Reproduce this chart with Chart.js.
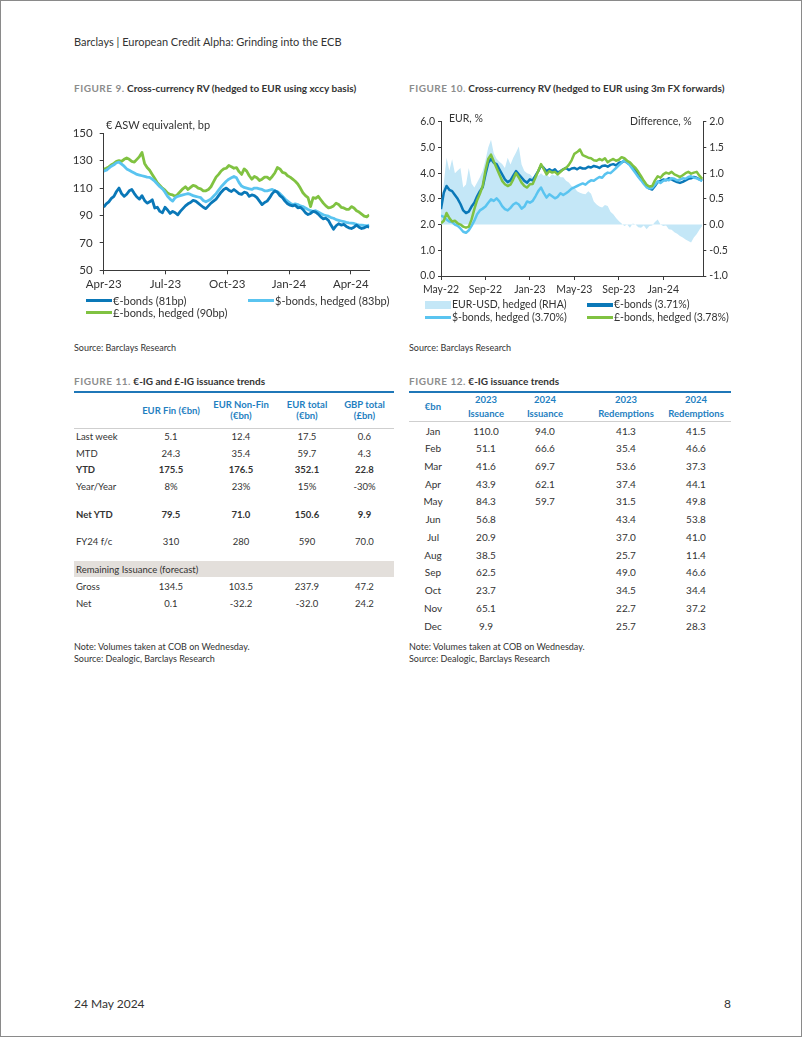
<!DOCTYPE html>
<html>
<head>
<meta charset="utf-8">
<script src="https://cdn.jsdelivr.net/npm/chart.js@4.4.1/dist/chart.umd.min.js"></script>
<style>
  body { margin: 0; background: #fff; font-family: Lato, sans-serif; color: #333; }
  #page { position: relative; width: 802px; height: 1037px; box-sizing: border-box; border: 1px solid #8a8a8a; overflow: hidden; }
  .abs { position: absolute; white-space: nowrap; }
  .hdr { font-size: 11px; line-height: 14px; color: #333; }
  .ftitle { font-size: 10px; line-height: 12px; font-weight: bold; color: #333; }
  .ftitle .fig { color: #8c8c8c; letter-spacing: 0.5px; }
  .src { font-size: 9px; line-height: 11.5px; color: #333; }
  .axlab { font-size: 11px; line-height: 13px; color: #333; }
  .leg { font-size: 11px; line-height: 13px; color: #333; }
  .sw { position: absolute; }
  canvas { position: absolute; }
  table { position: absolute; border-collapse: collapse; table-layout: fixed; font-size: 9.5px; color: #333; }
  td, th { padding: 0; white-space: nowrap; text-align: center; vertical-align: middle; }
  th { color: #1f7fc1; font-weight: bold; line-height: 11.5px; }
  tr.head { border-top: 2px solid #1f77b8; border-bottom: 1px solid #cfcfcf; }
  td.lab { text-align: left; padding-left: 2px; }
  tr.bold td { font-weight: bold; }
  tr.band td { background: #e3dfdb; }
</style>
</head>
<body>
<div id="page">
  <div class="abs hdr" style="left:73px;top:34px">Barclays | European Credit Alpha: Grinding into the ECB</div>

  <div class="abs ftitle" style="left:73px;top:81px"><span class="fig">FIGURE 9.</span> Cross-currency RV (hedged to EUR using xccy basis)</div>
  <div class="abs ftitle" style="left:408px;top:81px"><span class="fig">FIGURE 10.</span> Cross-currency RV (hedged to EUR using 3m FX forwards)</div>

  <canvas id="c9" width="320" height="182" style="left:60px;top:110px"></canvas>
  <div class="abs axlab" style="left:105px;top:117px">€ ASW equivalent, bp</div>

  <canvas id="c10" width="340" height="195" style="left:400px;top:100px"></canvas>
  <div class="abs axlab" style="left:448px;top:111px;font-size:10.5px">EUR, %</div>
  <div class="abs axlab" style="left:629px;top:114px;font-size:10.5px">Difference, %</div>

  <div class="abs src" style="left:73px;top:341px">Source: Barclays Research</div>
  <div class="abs src" style="left:408px;top:341px">Source: Barclays Research</div>

  <div class="abs ftitle" style="left:73px;top:374px"><span class="fig">FIGURE 11.</span> €-IG and £-IG issuance trends</div>
  <div class="abs ftitle" style="left:408px;top:374px"><span class="fig">FIGURE 12.</span> €-IG issuance trends</div>

  <table id="t11" style="left:73px;top:390px;width:320px"></table>
  <table id="t12" style="left:408px;top:390px;width:322px"></table>

  <div class="abs src" style="left:73px;top:640px">Note: Volumes taken at COB on Wednesday.<br>Source: Dealogic, Barclays Research</div>
  <div class="abs src" style="left:408px;top:640px">Note: Volumes taken at COB on Wednesday.<br>Source: Dealogic, Barclays Research</div>

  <div class="abs hdr" style="left:73px;top:996px;font-size:12px">24 May 2024</div>
  <div class="abs hdr" style="left:723px;top:996px;font-size:12px">8</div>
</div>

<script>
// Figure 9: € ASW equivalent (bp), about twice a week from Apr-23
const fig9TickMonths = [0, 3, 6, 9, 12];
const fig9TickLabels = ["Apr-23", "Jul-23", "Oct-23", "Jan-24", "Apr-24"];
const fig9SpanMonths = 12.9;
const fig9Names = ["€-bonds (81bp)", "$-bonds, hedged (83bp)", "£-bonds, hedged (90bp)"];
const fig9Eur = [96, 98.5, 100, 102.5, 104, 107.5, 110, 106, 104, 105.5, 108, 109, 106, 103.5, 102, 104.5, 101, 99, 100, 101.5,
  95.5, 96, 93, 92, 96, 94, 91.5, 93, 92, 90.5, 93, 95, 97, 98.5, 99.5, 101, 100.5, 99, 97.5, 96,
  95, 97, 99, 100.5, 102, 104.5, 107, 109, 110, 108.5, 107.5, 109, 107.5, 106, 105.4, 107, 106.6, 104, 105, 104.5,
  103, 100.5, 98, 99.5, 100.5, 103, 106, 108, 107, 104.5, 103, 100.5, 98.5, 97.5, 97, 97.5, 95.6, 96, 94.4, 92,
  90.7, 91.5, 93, 92.5, 91, 89, 87.6, 88, 86.5, 83, 80, 82.5, 84, 83, 83.5, 82, 81, 80.5, 81.5, 83,
  81.5, 80.5, 81, 82, 81.5];
const fig9Usd = [122.4, 123, 124.5, 126, 127, 128.5, 129, 127.5, 126, 124, 123, 122, 121, 120, 119.5, 119, 118.5, 118, 117.8, 116.5,
  115, 113, 111, 109.5, 107, 104, 102, 100.5, 103, 104, 104.5, 105, 105.5, 106, 105.4, 104.5, 104, 103.5, 103, 101,
  100, 101, 102, 104, 106, 108.5, 111, 113, 115, 116.5, 117.5, 118.5, 117.5, 114, 111.5, 110.5, 110, 109.5, 109, 110,
  110, 109.5, 109, 108, 108, 108.5, 109, 108, 107.5, 106, 104, 102, 100.5, 99, 98, 98.5, 98, 97, 96.5, 95.5,
  94.4, 93.5, 93, 93.5, 92.5, 91.5, 90.5, 90, 89.5, 88.5, 88, 87, 86.5, 86, 85.5, 85, 84.6, 84.5, 84.2, 83.5,
  83, 83, 82.7, 82.5, 83];
const fig9Gbp = [123.7, 124.5, 125.5, 127, 128, 129.5, 130, 129.5, 131, 132, 131, 129.5, 129, 131, 133, 136, 128, 125, 123, 120,
  117, 114, 112, 110, 108.5, 106.5, 105.4, 105, 104, 105.5, 107.5, 109.5, 111, 109, 110.5, 112, 111.5, 110, 109.5, 108,
  108, 109, 111, 114.5, 118, 120, 122.5, 124, 124.5, 126.5, 125.6, 124.5, 125, 122, 120, 124, 122.4, 119, 116.5, 118.5,
  117.5, 115.5, 116.5, 118, 118, 116.5, 118.5, 121, 125, 124, 121.5, 121, 119, 118, 116.5, 115, 113, 110, 106.6, 104.5,
  103, 96.5, 103, 102.5, 104, 101.5, 99, 97, 95.6, 96, 97, 99, 98, 96, 95.5, 94.5, 94.5, 96.5, 95.5, 93.5,
  92.5, 91, 89.5, 89, 90.5];

// Figure 10: EUR yields (%), weekly-ish from May-22; difference on the right axis
const fig10TickMonths = [0, 4, 8, 12, 16, 20];
const fig10TickLabels = ["May-22", "Sep-22", "Jan-23", "May-23", "Sep-23", "Jan-24"];
const fig10SpanMonths = 23.5;
const fig10Names = ["EUR-USD, hedged (RHA)", "€-bonds (3.71%)", "$-bonds, hedged (3.70%)", "£-bonds, hedged (3.78%)"];
const fig10Eur = [2.6, 3.24, 3.5, 3.35, 3.3, 3.15, 3.0, 2.8, 2.55, 2.45, 2.5, 2.7, 2.85, 3.1, 3.3, 3.45, 3.95, 4.4, 4.55, 4.4,
  4.35, 4.15, 3.95, 3.76, 3.65, 3.72, 3.9, 4.08, 3.95, 3.83, 3.7, 3.63, 3.76, 3.72, 3.9, 4.08, 4.3, 4.2, 4.08, 4.15,
  4.08, 4.15, 4.02, 4.08, 4.15, 4.2, 4.12, 4.18, 4.2, 4.15, 4.22, 4.18, 4.18, 4.25, 4.22, 4.28, 4.25, 4.2, 4.28, 4.3,
  4.25, 4.32, 4.35, 4.3, 4.4, 4.42, 4.48, 4.4, 4.35, 4.25, 4.1, 3.95, 3.8, 3.65, 3.5, 3.4, 3.36, 3.5, 3.65, 3.7,
  3.75, 3.72, 3.8, 3.76, 3.7, 3.65, 3.62, 3.66, 3.72, 3.78, 3.8, 3.85, 3.82, 3.76, 3.71];
const fig10Usd = [2.35, 2.3, 2.2, 2.12, 2.1, 2.0, 1.95, 1.85, 1.72, 1.68, 1.78, 1.95, 2.15, 2.4, 2.55, 2.62, 2.7, 2.85, 2.98, 2.92,
  3.02, 2.9, 2.72, 2.6, 2.55, 2.65, 2.78, 2.85, 2.78, 2.62, 2.7, 2.9, 2.85, 2.92, 3.1, 3.3, 3.44, 3.22, 3.05, 3.18,
  3.1, 3.02, 3.08, 3.22, 3.15, 3.22, 3.3, 3.4, 3.45, 3.5, 3.55, 3.6, 3.55, 3.65, 3.72, 3.7, 3.78, 3.85, 3.82, 3.95,
  4.02, 4.0, 4.1, 4.2, 4.3, 4.4, 4.52, 4.4, 4.3, 4.15, 4.0, 3.85, 3.72, 3.58, 3.45, 3.4, 3.42, 3.55, 3.68, 3.62,
  3.7, 3.75, 3.72, 3.8, 3.78, 3.72, 3.75, 3.8, 3.78, 3.85, 3.88, 3.82, 3.8, 3.75, 3.7];
const fig10Gbp = [2.05, 2.15, 2.45, 2.25, 2.12, 2.15, 2.05, 2.0, 1.92, 1.88, 1.92, 2.2, 2.6, 2.95, 3.2, 3.5, 4.1, 4.55, 4.72, 4.45,
  4.2, 3.95, 3.7, 3.57, 3.5, 3.55, 3.76, 4.0, 3.83, 3.63, 3.5, 3.44, 3.57, 3.58, 3.83, 4.08, 4.35, 4.15, 3.95, 4.08,
  4.02, 4.05, 3.95, 4.05, 4.15, 4.2, 4.32, 4.5, 4.75, 4.82, 4.92, 4.7, 4.65, 4.6, 4.58, 4.5, 4.48, 4.55, 4.5, 4.58,
  4.42, 4.5, 4.55, 4.48, 4.52, 4.62, 4.58, 4.48, 4.42, 4.3, 4.2, 4.05, 3.88, 3.7, 3.55, 3.48, 3.5, 3.72, 3.88, 3.82,
  3.95, 4.02, 3.98, 4.05, 3.95, 3.9, 3.85, 3.92, 4.0, 4.05, 3.98, 4.02, 4.05, 3.9, 3.78];
const fig10Diff = [0.4, 0.8, 1.3, 1.05, 1.27, 1.0, 1.05, 1.1, 0.72, 0.78, 1.1, 0.8, 0.72, 0.82, 0.92, 1.04, 1.25, 1.5, 1.65, 1.38,
  1.28, 1.22, 1.18, 1.1, 1.3, 1.17, 1.3, 1.4, 1.52, 1.17, 1.04, 1.0, 0.98, 0.92, 0.98, 0.95, 1.0, 0.95, 0.98, 0.92,
  0.98, 0.95, 0.98, 0.92, 0.92, 0.85, 0.82, 0.75, 0.72, 0.65, 0.62, 0.6, 0.59, 0.65, 0.6, 0.45, 0.39, 0.35, 0.33, 0.38,
  0.36, 0.25, 0.2, 0.13, 0.07, 0.02, -0.03, 0.0, -0.06, 0.02, 0.0, -0.05, -0.06, -0.02, -0.09, -0.03, -0.02, 0.05, 0.1, 0.0,
  -0.03, -0.02, -0.09, -0.1, -0.15, -0.18, -0.22, -0.25, -0.29, -0.32, -0.35, -0.25, -0.19, -0.1, -0.03];

// Figure 11 table
const t11Head = ["", "EUR Fin (€bn)", "EUR Non-Fin<br>(€bn)", "EUR total<br>(€bn)", "GBP total<br>(£bn)"];
const t11Body = [
  ["Last week", "5.1", "12.4", "17.5", "0.6"],
  ["MTD", "24.3", "35.4", "59.7", "4.3"],
  ["YTD", "175.5", "176.5", "352.1", "22.8"],
  ["Year/Year", "8%", "23%", "15%", "-30%"],
  null,
  ["Net YTD", "79.5", "71.0", "150.6", "9.9"],
  null,
  ["FY24 f/c", "310", "280", "590", "70.0"],
  null,
  ["Remaining Issuance (forecast)"],
  null,
  ["Gross", "134.5", "103.5", "237.9", "47.2"],
  ["Net", "0.1", "-32.2", "-32.0", "24.2"]
];
const t11BoldRows = ["YTD", "Net YTD"];

// Figure 12 table
const t12Head = ["€bn", "2023<br>Issuance", "2024<br>Issuance", "2023<br>Redemptions", "2024<br>Redemptions"];
const t12Months = ["Jan", "Feb", "Mar", "Apr", "May", "Jun", "Jul", "Aug", "Sep", "Oct", "Nov", "Dec"];
const t12Iss2023 = ["110.0", "51.1", "41.6", "43.9", "84.3", "56.8", "20.9", "38.5", "62.5", "23.7", "65.1", "9.9"];
const t12Iss2024 = ["94.0", "66.6", "69.7", "62.1", "59.7", "", "", "", "", "", "", ""];
const t12Red2023 = ["41.3", "35.4", "53.6", "37.4", "31.5", "43.4", "37.0", "25.7", "49.0", "34.5", "22.7", "25.7"];
const t12Red2024 = ["41.5", "46.6", "37.3", "44.1", "49.8", "53.8", "41.0", "11.4", "46.6", "34.4", "37.2", "28.3"];

const colEur = "#0a78b8";
const colUsd = "#5ac4f0";
const colGbp = "#80c241";
const colArea = "#c4e7f7";
const axisColor = "#3a3a3a";

Chart.defaults.font.family = "Lato";
Chart.defaults.color = "#333";

function series(values, span) {
  return values.map((v, i) => ({ x: i * span / (values.length - 1), y: v }));
}

function lineSet(label, values, span, color, width, order, axis) {
  return {
    label: label, data: series(values, span), yAxisID: axis || "y",
    borderColor: color, borderWidth: width, pointRadius: 0, fill: false,
    tension: 0, borderJoinStyle: "round", order: order
  };
}

function xScale(max, tickMonths, tickLabels, height, size) {
  return {
    type: "linear", min: 0, max: max,
    afterBuildTicks: s => { s.ticks = tickMonths.map(v => ({ value: v })); },
    afterFit: s => { s.height = height; },
    ticks: { callback: (v, i) => tickLabels[i], maxRotation: 0, autoSkip: false, padding: 3, font: { size: size } },
    grid: { drawOnChartArea: false, tickLength: 4, color: axisColor },
    border: { color: axisColor }
  };
}

// Figure 9 chart
new Chart(document.getElementById("c9"), {
  type: "line",
  data: {
    datasets: [
      lineSet(fig9Names[0], fig9Eur, fig9SpanMonths, colEur, 2.8, 0),
      lineSet(fig9Names[1], fig9Usd, fig9SpanMonths, colUsd, 2.8, 1),
      lineSet(fig9Names[2], fig9Gbp, fig9SpanMonths, colGbp, 2.8, 2)
    ]
  },
  options: {
    responsive: false, animation: false, devicePixelRatio: 1,
    layout: { padding: { top: 22.3, right: 11.7, left: 0, bottom: 0 } },
    plugins: { legend: { display: false }, tooltip: { enabled: false } },
    scales: {
      x: xScale(fig9SpanMonths, fig9TickMonths, fig9TickLabels, 22.7, 11.5),
      y: {
        min: 50, max: 150,
        afterFit: s => { s.width = 42.7; },
        ticks: { stepSize: 20, padding: 7, font: { size: 11.5 } },
        grid: { drawOnChartArea: false, tickLength: 4, color: axisColor },
        border: { color: axisColor }
      }
    }
  }
});

// Figure 10 chart
new Chart(document.getElementById("c10"), {
  type: "line",
  data: {
    datasets: [
      {
        label: fig10Names[0], data: series(fig10Diff, fig10SpanMonths), yAxisID: "y1",
        backgroundColor: colArea, borderWidth: 0, pointRadius: 0, fill: "origin", order: 3
      },
      lineSet(fig10Names[1], fig10Eur, fig10SpanMonths, colEur, 2.5, 2),
      lineSet(fig10Names[2], fig10Usd, fig10SpanMonths, colUsd, 2.5, 1),
      lineSet(fig10Names[3], fig10Gbp, fig10SpanMonths, colGbp, 2.5, 0)
    ]
  },
  options: {
    responsive: false, animation: false, devicePixelRatio: 1,
    layout: { padding: { top: 20.7, right: 0, left: 0, bottom: 0 } },
    plugins: { legend: { display: false }, tooltip: { enabled: false } },
    scales: {
      x: xScale(23.6, fig10TickMonths, fig10TickLabels, 20, 10.5),
      y: {
        position: "left", min: 0, max: 6,
        afterFit: s => { s.width = 40; },
        ticks: { stepSize: 1, padding: 3, font: { size: 10.5 }, callback: v => v.toFixed(1) },
        grid: { drawOnChartArea: false, tickLength: 3, color: axisColor },
        border: { color: axisColor }
      },
      y1: {
        position: "right", min: -1, max: 2,
        afterFit: s => { s.width = 37.7; },
        ticks: { stepSize: 0.5, padding: 3, font: { size: 10.5 }, callback: v => v.toFixed(1) },
        grid: { drawOnChartArea: false, tickLength: 3, color: axisColor },
        border: { color: axisColor }
      }
    }
  }
});

// legends (HTML, laid out in two columns like the original)
function legendItem(parent, left, top, text, color, kind, size) {
  const sw = document.createElement("div");
  sw.className = "sw";
  if (kind === "area") {
    sw.style.cssText = `left:${left}px;top:${top - 4}px;width:26px;height:8px;background:${color}`;
  } else {
    sw.style.cssText = `left:${left}px;top:${top - 2}px;width:26px;height:3.5px;background:${color}`;
  }
  parent.appendChild(sw);
  const t = document.createElement("div");
  t.className = "abs leg";
  t.style.cssText = `left:${left + 27}px;top:${top - 7}px;font-size:${size}px`;
  t.textContent = text;
  parent.appendChild(t);
}
const page = document.getElementById("page");
legendItem(page, 85, 299.5, fig9Names[0], colEur, "line", 11);
legendItem(page, 247, 299.5, fig9Names[1], colUsd, "line", 11);
legendItem(page, 85, 311.5, fig9Names[2], colGbp, "line", 11);
legendItem(page, 424, 304, fig10Names[0], colArea, "area", 10.5);
legendItem(page, 586, 304, fig10Names[1], colEur, "line", 10.5);
legendItem(page, 424, 316.5, fig10Names[2], colUsd, "line", 10.5);
legendItem(page, 586, 316.5, fig10Names[3], colGbp, "line", 10.5);

// tables
function buildT11() {
  const t = document.getElementById("t11");
  const widths = [62, 70, 70, 62, 56];
  let html = "<colgroup>" + widths.map(w => `<col style="width:${w}px">`).join("") + "</colgroup>";
  html += `<tr class="head" style="height:36.3px">` + t11Head.map((h, i) => `<th style="${i === 4 ? 'padding-right:3px' : ''}">${h}</th>`).join("") + "</tr>";
  const spacers = [11.5, 11, 11.5, 1];
  let s = 0;
  t11Body.forEach(r => {
    if (r === null) { html += `<tr style="height:${spacers[s++]}px"><td colspan="5"></td></tr>`; return; }
    if (r.length === 1) { html += `<tr class="band" style="height:16px"><td class="lab" colspan="5">${r[0]}</td></tr>`; return; }
    const cls = t11BoldRows.includes(r[0]) ? "bold" : "";
    html += `<tr class="${cls}" style="height:16.5px">` + r.map((c, i) => i === 0 ? `<td class="lab">${c}</td>` : `<td style="${i === 4 ? 'padding-right:3px' : ''}">${c}</td>`).join("") + "</tr>";
  });
  t.innerHTML = html;
}
function buildT12() {
  const t = document.getElementById("t12");
  const widths = [48, 58, 60, 91, 65];
  const padL = [0, 0, 0, 11, 0];
  const padR = [0, 0, 0, 0, 5];
  const pad = i => `padding-left:${padL[i]}px;padding-right:${padR[i]}px`;
  let html = "<colgroup>" + widths.map(w => `<col style="width:${w}px">`).join("") + "</colgroup>";
  html += `<tr class="head" style="height:29px">` + t12Head.map((h, i) => `<th style="line-height:14px;${pad(i)}">${h}</th>`).join("") + "</tr>";
  t12Months.forEach((m, j) => {
    const cells = [m, t12Iss2023[j], t12Iss2024[j], t12Red2023[j], t12Red2024[j]];
    html += `<tr style="height:17.75px;font-size:10px">` + cells.map((c, i) => `<td style="${pad(i)}">${c}</td>`).join("") + "</tr>";
  });
  t.innerHTML = html;
}
buildT11();
buildT12();
</script>
</body>
</html>
